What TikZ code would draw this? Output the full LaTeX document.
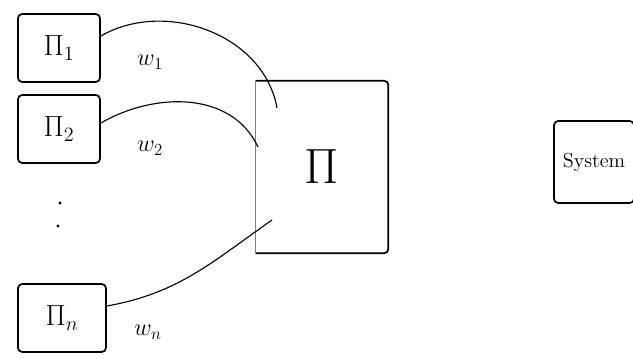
\documentclass[tikz,border=0pt]{standalone}
\usepackage{amsmath}
\usepackage{tikz}
\usetikzlibrary{positioning, calc}

\begin{document}
\begin{tikzpicture}[
  x=0.025cm, y=-0.025cm,
  font=\huge,
  player/.style={draw=black, very thick, rounded corners=3pt,
                 minimum width=2.05cm, minimum height=1.7cm},
  weight/.style={font=\LARGE},
  wire/.style={thick, black}
]
  \useasboundingbox (0,0) rectangle (633,359);

  \node[player] (p1) at (59,48) {$\Pi_1$};
  \node[player] (p2) at (59,129) {$\Pi_2$};
  \node[player, minimum width=2.2cm] (pn) at (62,318) {$\Pi_n$};
  \node[weight] (w1) at (150,62) {$w_1$};
  \node[weight] (w2) at (150,148) {$w_2$};
  \node[weight] (wn) at (148,332) {$w_n$};
  \fill (60,203) circle (1.6);
  \fill (58,226) circle (1.6);

  % the combined protocol
  \node[minimum width=3.3cm, minimum height=4.3cm] (pi) at (322,167) {};
  \node[scale=1.7] (pitext) at (pi) {$\Pi$};
  \draw[gray, thick] (pi.north west) -- (pi.south west);
  \draw[very thick, rounded corners=3pt]
    (pi.north west) -- (pi.north east) -- (pi.south east) -- (pi.south west);

  \node[player, minimum width=2cm, minimum height=2.05cm, font=\Large]
    (sys) at (594,162) {System};

  \coordinate (e1) at (277,108);
  \coordinate (e2) at (258,147);
  \coordinate (en) at (272,220);
  \draw[wire] ($(p1.east)+(0,-12)$) to[out=30, in=100] (e1);
  \draw[wire] ($(p2.east)+(0,-6)$) to[out=30, in=115] (e2);
  \draw[wire] ($(pn.east)+(0,-12)$) to[out=10, in=-145] (en);
\end{tikzpicture}
\end{document}
